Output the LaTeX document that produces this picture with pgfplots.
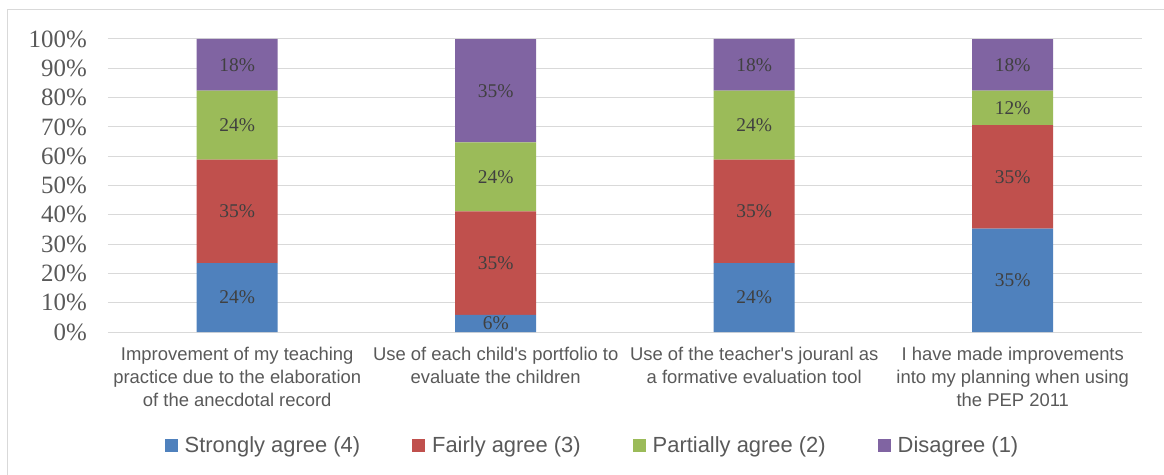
\documentclass[border=0pt]{standalone}
\usepackage{fontspec}
\setmainfont{Liberation Sans}
\newfontfamily\cambria{Liberation Serif}
\usepackage{pgfplots}
\pgfplotsset{compat=1.18}
\definecolor{cblue}{HTML}{4F81BD}
\definecolor{cred}{HTML}{C0504D}
\definecolor{cgreen}{HTML}{9BBB59}
\definecolor{cpurple}{HTML}{8064A2}
\definecolor{txt}{HTML}{595959}
\definecolor{lbl}{HTML}{404040}
\definecolor{gridc}{HTML}{D9D9D9}
\begin{document}
\begin{tikzpicture}
\useasboundingbox (-108bp,-143bp) rectangle (1056bp,332bp);
\draw[gridc, line width=1.5bp] (-100.5bp,322.5bp) rectangle (1300bp,-400bp);
\begin{axis}[
  at={(0,0)}, anchor=south west,
  scale only axis, width=1034bp, height=293bp,
  ybar stacked, bar width=81bp,
  xmin=-0.5, xmax=3.5, ymin=0, ymax=100,
  xtick={0,1,2,3},
  xticklabels={{Improvement of my teaching\\practice due to the elaboration\\of the anecdotal record},
               {Use of each child\textquotesingle s portfolio to\\evaluate the children},
               {Use of the teacher\textquotesingle s jouranl as\\a formative evaluation tool},
               {I have made improvements\\into my planning when using\\the PEP 2011}},
  ytick={0,10,...,100},
  /pgf/number format/assume math mode=true,
  yticklabel={\pgfmathprintnumber{\tick}\%},
  yticklabel style={font=\cambria\fontsize{25}{25}\selectfont, text=txt, anchor=east, inner sep=0pt, xshift=-21bp},
  xticklabel style={font=\fontsize{18.5}{23}\selectfont, text=txt, align=center, anchor=north, inner sep=0pt, yshift=-15bp},
  major tick length=0pt,
  axis x line*=bottom, axis y line*=left,
  x axis line style={draw=gridc, line width=1bp, -},
  y axis line style={draw=none},
  ymajorgrids, grid style={draw=gridc, line width=1bp},
  legend columns=-1,
  legend style={at={(0.4686,-0.386)}, anchor=center, draw=none, fill=none,
    font=\fontsize{22}{22}\selectfont, text=txt, nodes={inner sep=2bp},
    /tikz/every odd column/.append style={column sep=5bp},
    /tikz/every even column/.append style={column sep=50bp}},
  legend cell align=left,
  legend image code/.code={\fill[#1, draw=none] (0bp,-6.5bp) rectangle (13bp,6.5bp);},
]
\addplot[fill=cblue, draw=none] coordinates {(0,23.53) (1,5.88) (2,23.53) (3,35.29)};
\addlegendentry{Strongly agree (4)}
\addplot[fill=cred, draw=none] coordinates {(0,35.29) (1,35.29) (2,35.29) (3,35.29)};
\addlegendentry{Fairly agree (3)}
\addplot[fill=cgreen, draw=none] coordinates {(0,23.53) (1,23.53) (2,23.53) (3,11.76)};
\addlegendentry{Partially agree (2)}
\addplot[fill=cpurple, draw=none] coordinates {(0,17.65) (1,35.29) (2,17.65) (3,17.65)};
\addlegendentry{Disagree (1)}
\end{axis}
\begin{axis}[
  at={(0,0)}, anchor=south west,
  scale only axis, width=1034bp, height=293bp,
  xmin=-0.5, xmax=3.5, ymin=0, ymax=100,
  hide axis, clip=false,
]
\addplot[draw=none, mark=none, point meta=explicit symbolic,
  nodes near coords={\pgfplotspointmeta\%},
  nodes near coords align={center},
  every node near coord/.style={anchor=center, inner sep=0pt, font=\cambria\fontsize{19.5}{19.5}\selectfont, text=lbl}]
  coordinates {
  (0,11.76) [24] (0,41.18) [35] (0,70.59) [24] (0,91.18) [18]
  (1,2.94) [6] (1,23.53) [35] (1,52.94) [24] (1,82.35) [35]
  (2,11.76) [24] (2,41.18) [35] (2,70.59) [24] (2,91.18) [18]
  (3,17.65) [35] (3,52.94) [35] (3,76.47) [12] (3,91.18) [18]
  };
\end{axis}
\end{tikzpicture}
\end{document}
